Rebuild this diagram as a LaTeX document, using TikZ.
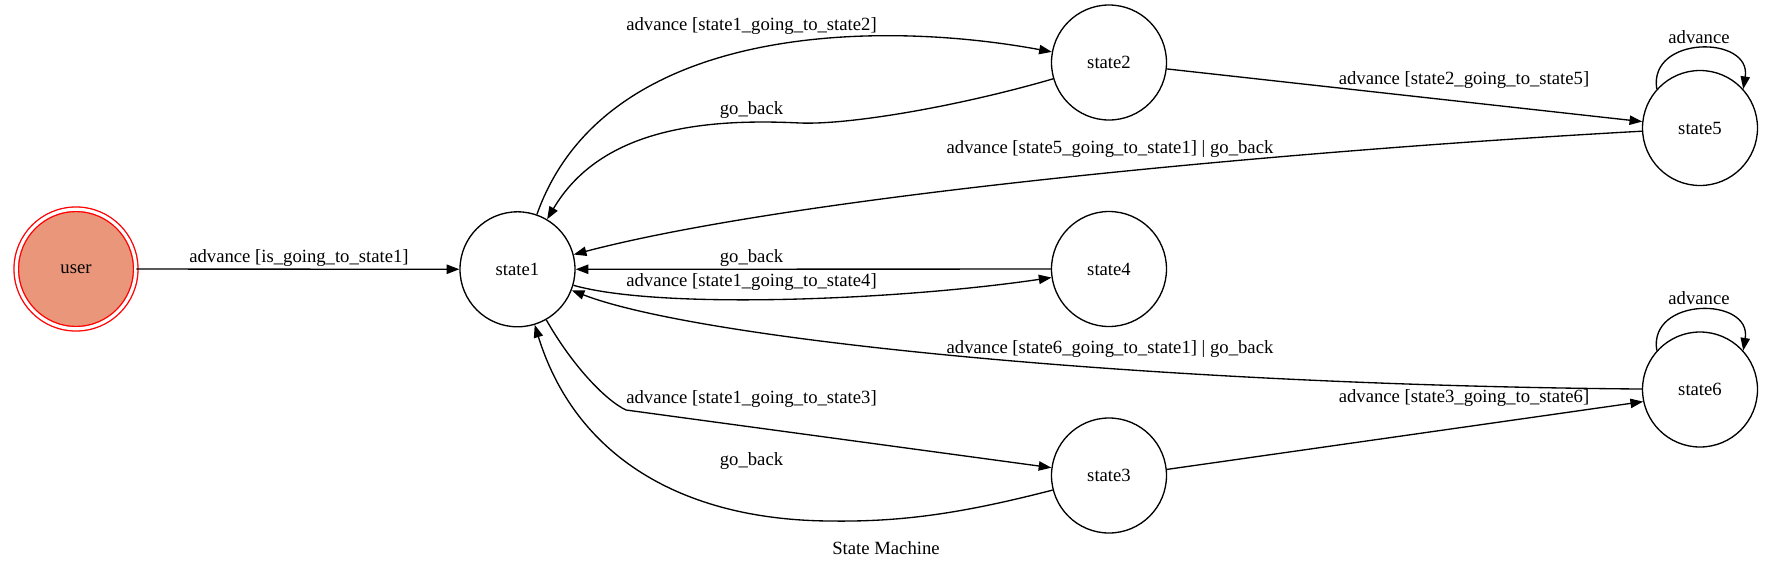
\documentclass[tikz,border=0pt]{standalone}
\usepackage{fontspec}
\setmainfont{Liberation Serif}
\usetikzlibrary{arrows.meta}
\definecolor{salmonfill}{RGB}{233,150,122}
\begin{document}
\begin{tikzpicture}[x=0.75pt,y=-0.75pt,
  txt/.style={font=\fontsize{14}{16}\selectfont},
  state/.style={circle,draw=black,line width=1pt,minimum size=86.25pt,inner sep=0pt,txt},
  startstate/.style={circle,fill=salmonfill,draw=red,line width=1pt,double=white,double distance=2.4pt,minimum size=89.6pt,inner sep=0pt,txt},
  lbl/.style={inner sep=0pt,txt},
  edge/.style={line width=1pt,-{Triangle[length=9.5pt,width=7pt]}}]
\useasboundingbox (0,0) rectangle (1771,569);
% states
\node[startstate] (user) at (76,269) {user};
\node[state] (s1) at (517.5,269.3) {state1};
\node[state] (s2) at (1109,62.5) {state2};
\node[state] (s4) at (1109,269) {state4};
\node[state] (s3) at (1109,475.5) {state3};
\node[state] (s5) at (1700,128) {state5};
\node[state] (s6) at (1700,389.5) {state6};
% edges
\draw[edge] (user) -- (s1);
\draw[edge] (s1) .. controls (605,22) and (880,20) .. (s2);
\draw[edge] (s2) .. controls (960,106) and (850,125) .. (800,123) .. controls (700,118) and (600,130) .. (s1);
\draw[edge] (s2) -- (s5);
\draw[edge] (s5) .. controls (1300,150) and (800,195) .. (s1);
\draw[edge] (s5.138) .. controls (1648,35) and (1752,35) .. (s5.42);
\draw[edge] (s4) -- (s1);
\draw[edge] (s1) .. controls (660,310) and (900,300) .. (s4);
\draw[edge] (s6) .. controls (1150,385) and (700,340) .. (s1);
\draw[edge] (s6.138) .. controls (1648,296.5) and (1752,296.5) .. (s6.42);
\draw[edge] (s1) .. controls (572,365) and (605,400) .. (626,410) -- (s3);
\draw[edge] (s3) .. controls (960,514) and (900,522) .. (830,521) .. controls (680,520) and (575,455) .. (s1);
\draw[edge] (s3.6) -- (s6.192);
% labels
\node[lbl] (l1) at (299,258) {advance [is\_going\_to\_state1]};
\node[lbl] (l2) at (751.5,26) {advance [state1\_going\_to\_state2]};
\node[lbl] (l3) at (751.5,110) {go\_back};
\node[lbl] (l4) at (1464,80) {advance [state2\_going\_to\_state5]};
\node[lbl] (l5) at (1699,36.7) {advance};
\node[lbl] (l6) at (1110,149) {advance [state5\_going\_to\_state1] | go\_back};
\node[lbl] (l7) at (751.5,258.3) {go\_back};
\node[lbl] (l8) at (751.5,281.7) {advance [state1\_going\_to\_state4]};
\node[lbl] (l9) at (1110,349) {advance [state6\_going\_to\_state1] | go\_back};
\node[lbl] (l10) at (1699,298) {advance};
\node[lbl] (l11) at (1464,398.5) {advance [state3\_going\_to\_state6]};
\node[lbl] (l12) at (751.5,399.3) {advance [state1\_going\_to\_state3]};
\node[lbl] (l13) at (751.5,460.7) {go\_back};
\node[lbl] (title) at (886,548) {State Machine};
\end{tikzpicture}
\end{document}
